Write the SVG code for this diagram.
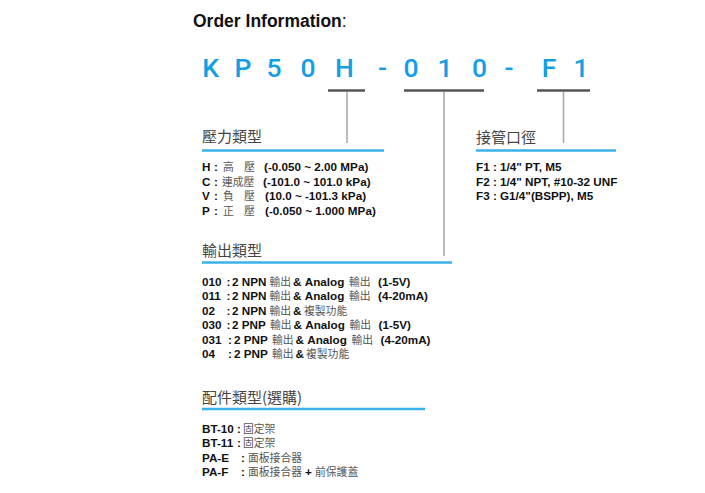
<svg xmlns="http://www.w3.org/2000/svg" width="705" height="493" viewBox="0 0 705 493">
<style>
.title{font-family:"Liberation Sans",Arial,sans-serif;font-weight:bold;font-size:17.5px;fill:#111}
.code{font-family:Roboto,"Liberation Sans",sans-serif;font-weight:500;font-size:26.5px;fill:#129fe4;text-anchor:middle}
.head{font-family:"Noto Sans CJK TC","Noto Sans CJK SC",sans-serif;font-size:15px;fill:#444}
.b{font-family:"Liberation Sans",Arial,"Noto Sans CJK TC",sans-serif;font-weight:bold;font-size:11.7px;fill:#111}
.c{font-family:"Noto Sans CJK TC","Noto Sans CJK SC",sans-serif;font-weight:normal;font-size:10.8px;fill:#555}
.bar{stroke:#555;stroke-width:2.5}
.vl{stroke:#aaa;stroke-width:1.6}
.bl{stroke:#3ab2e8;stroke-width:2.5}
</style>
<rect width="705" height="493" fill="#fff"/>
<text class="title" x="193" y="27">Order Information<tspan font-weight="normal">:</tspan></text>
<g id="code">
<text class="code" y="77"><tspan x="210.5">K</tspan><tspan x="243">P</tspan><tspan x="274">5</tspan><tspan x="308">0</tspan><tspan x="344.5">H</tspan><tspan x="382.5">-</tspan><tspan x="411">0</tspan><tspan x="445">1</tspan><tspan x="479.5">0</tspan><tspan x="509">-</tspan><tspan x="549">F</tspan><tspan x="581">1</tspan></text>
</g>
<g id="connectors">
<line class="bar" x1="328" y1="90.5" x2="365" y2="90.5"/>
<line class="bar" x1="404" y1="90.5" x2="484" y2="90.5"/>
<line class="bar" x1="537" y1="90.5" x2="590" y2="90.5"/>
<line class="vl" x1="347" y1="92" x2="347" y2="143"/>
<line class="vl" x1="444" y1="92" x2="444" y2="256"/>
<line class="vl" x1="563.5" y1="92" x2="563.5" y2="143"/>
</g>
<g id="pressure">
<text class="head" x="202" y="142">壓力類型</text>
<line class="bl" x1="202" y1="150.5" x2="384" y2="150.5"/>
<text class="b" y="171"><tspan x="202">H</tspan><tspan x="214">:</tspan><tspan class="c" x="223">高</tspan><tspan class="c" x="244">壓</tspan><tspan x="264">(-0.050 ~ 2.00 MPa)</tspan></text>
<text class="b" y="185.5"><tspan x="202">C</tspan><tspan x="214">:</tspan><tspan class="c" x="222">連成壓</tspan><tspan x="263">(-101.0 ~ 101.0 kPa)</tspan></text>
<text class="b" y="200"><tspan x="202">V</tspan><tspan x="214">:</tspan><tspan class="c" x="223">負</tspan><tspan class="c" x="244">壓</tspan><tspan x="265">(10.0 ~ -101.3 kPa)</tspan></text>
<text class="b" y="214.5"><tspan x="202">P</tspan><tspan x="214">:</tspan><tspan class="c" x="223">正</tspan><tspan class="c" x="244">壓</tspan><tspan x="265">(-0.050 ~ 1.000 MPa)</tspan></text>
</g>
<g id="output">
<text class="head" x="202" y="256">輸出類型</text>
<line class="bl" x1="202" y1="262.5" x2="452" y2="262.5"/>
<text class="b" y="285.5"><tspan x="202">010</tspan><tspan x="226.5">:</tspan><tspan x="232">2 NPN</tspan><tspan class="c" x="269.5">輸出</tspan><tspan x="293">&amp; Analog</tspan><tspan class="c" x="349">輸出</tspan><tspan x="378">(1-5V)</tspan></text>
<text class="b" y="300"><tspan x="202">011</tspan><tspan x="226.5">:</tspan><tspan x="232">2 NPN</tspan><tspan class="c" x="269.5">輸出</tspan><tspan x="293">&amp; Analog</tspan><tspan class="c" x="349">輸出</tspan><tspan x="378">(4-20mA)</tspan></text>
<text class="b" y="314.5"><tspan x="202">02</tspan><tspan x="226.5">:</tspan><tspan x="232">2 NPN</tspan><tspan class="c" x="269.5">輸出</tspan><tspan x="293">&amp;</tspan><tspan class="c" x="304">複製功能</tspan></text>
<text class="b" y="329"><tspan x="202">030</tspan><tspan x="226.5">:</tspan><tspan x="232">2 PNP</tspan><tspan class="c" x="270">輸出</tspan><tspan x="293.5">&amp; Analog</tspan><tspan class="c" x="349.5">輸出</tspan><tspan x="378.5">(1-5V)</tspan></text>
<text class="b" y="343.5"><tspan x="202">031</tspan><tspan x="228">:</tspan><tspan x="234">2 PNP</tspan><tspan class="c" x="272">輸出</tspan><tspan x="295.5">&amp; Analog</tspan><tspan class="c" x="351.5">輸出</tspan><tspan x="380.5">(4-20mA)</tspan></text>
<text class="b" y="358"><tspan x="202">04</tspan><tspan x="228">:</tspan><tspan x="234">2 PNP</tspan><tspan class="c" x="272">輸出</tspan><tspan x="295.5">&amp;</tspan><tspan class="c" x="306">複製功能</tspan></text>
</g>
<g id="accessory">
<text class="head" x="202" y="403">配件類型(選購)</text>
<line class="bl" x1="202" y1="409" x2="425" y2="409"/>
<text class="b" y="432.5"><tspan x="202">BT-10</tspan><tspan x="237">:</tspan><tspan class="c" x="243">固定架</tspan></text>
<text class="b" y="447"><tspan x="202">BT-11</tspan><tspan x="237">:</tspan><tspan class="c" x="243">固定架</tspan></text>
<text class="b" y="461.5"><tspan x="202">PA-E</tspan><tspan x="241">:</tspan><tspan class="c" x="248">面板接合器</tspan></text>
<text class="b" y="476"><tspan x="202">PA-F</tspan><tspan x="241">:</tspan><tspan class="c" x="248">面板接合器</tspan><tspan x="305">+</tspan><tspan class="c" x="315">前保護蓋</tspan></text>
</g>
<g id="port">
<text class="head" x="476" y="143">接管口徑</text>
<line class="bl" x1="476" y1="150.5" x2="616" y2="150.5"/>
<text class="b" x="476" y="171">F1 : 1/4" PT, M5</text>
<text class="b" x="476" y="185.5">F2 : 1/4" NPT, #10-32 UNF</text>
<text class="b" x="476" y="200">F3 : G1/4"(BSPP), M5</text>
</g>
</svg>
